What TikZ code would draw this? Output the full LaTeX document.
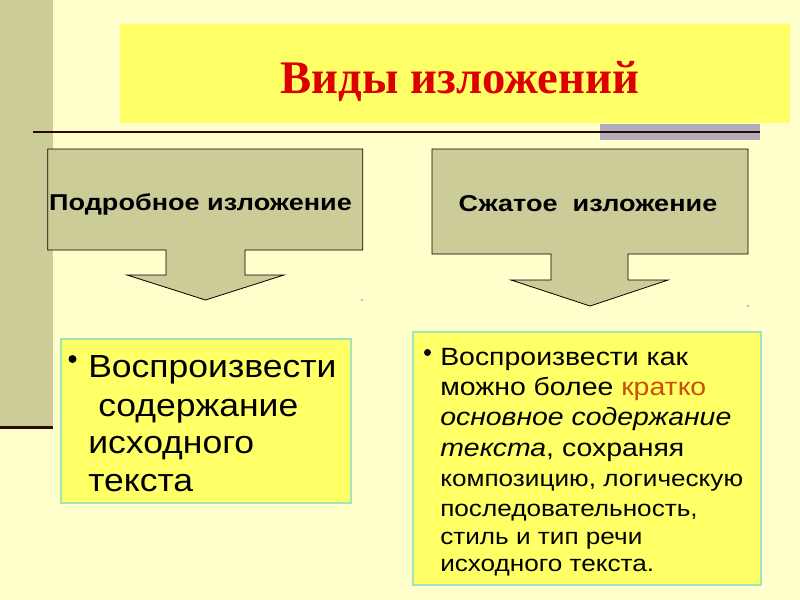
\documentclass[tikz,border=0pt]{standalone}
\usepackage{fontspec}
\setmainfont{Liberation Sans}
\newfontfamily\titlefont{Liberation Serif}
\newfontfamily\headfont[FakeStretch=1.18]{Liberation Sans}
\newfontfamily\leftfont[FakeStretch=1.11]{Liberation Sans}
\newfontfamily\rightfont[FakeStretch=1.14]{Liberation Sans}
\definecolor{bgc}{HTML}{FFFFCC}
\definecolor{khaki}{HTML}{CCCC99}
\definecolor{ylw}{HTML}{FFFF66}
\definecolor{titlered}{HTML}{DD0000}
\definecolor{darkline}{HTML}{2A0A00}
\definecolor{graybar}{HTML}{B0ACBC}
\definecolor{mint}{HTML}{A0E6B4}
\definecolor{orng}{HTML}{C8500A}
\tikzset{
  x=0.75pt, y=-0.75pt,
  arrowbox/.style={fill=khaki, draw=black, line width=0.6pt, line join=miter},
  bodybox/.style={fill=ylw, draw=mint, line width=1.5pt},
  headtxt/.style={font=\headfont\bfseries\fontsize{17.2}{20}\selectfont, inner sep=0pt, anchor=base},
  bigtxt/.style={font=\leftfont\fontsize{24}{28}\selectfont, inner sep=0pt, anchor=base west},
  midtxt/.style={font=\rightfont\fontsize{18.7}{22}\selectfont, inner sep=0pt, anchor=base west},
  smalltxt/.style={font=\rightfont\fontsize{17.2}{20}\selectfont, inner sep=0pt, anchor=base west},
  bulletdot/.style={circle, fill=black, inner sep=0pt},
}
\begin{document}
\begin{tikzpicture}
\fill[bgc] (0,0) rectangle (800,600);
\useasboundingbox (0,0) rectangle (800,600);
% left strip
\fill[khaki] (0,0) rectangle (52.5,425.5);
\fill[darkline] (0,425.5) rectangle (52.5,428.5);
% title box
\fill[ylw] (120,24) rectangle (790,123);
\fill[graybar] (600,124) rectangle (760,140);
\draw[darkline, line width=1.6pt] (33,132) -- (760,132);
\node[font=\titlefont\bfseries\fontsize{35}{40}\selectfont, text=titlered, inner sep=0pt, anchor=base] (title) at (460,93) {Виды изложений};
% arrow boxes
\draw[arrowbox] (47.7,149) -- (362.7,149) -- (362.7,250) -- (245,250) -- (245,275) -- (284,275) -- (205.5,300) -- (127,275) -- (166,275) -- (166,250) -- (47.7,250) -- cycle;
\node[headtxt] (podr) at (200.5,210.7) {Подробное изложение};
\draw[arrowbox] (432,149) -- (748,149) -- (748,254) -- (628,254) -- (628,280) -- (668,280) -- (590,306) -- (511,280) -- (551,280) -- (551,254) -- (432,254) -- cycle;
\node[headtxt] (szh) at (588,211.7) {Сжатое\ \ изложение};
\fill[gray] (362,300) circle (0.8);
\fill[gray] (748,306) circle (0.8);
% left body
\draw[bodybox] (61,339) rectangle (351,503);
\node[bulletdot, minimum size=6pt] (b1) at (72.5,359) {};
\node[bigtxt] (l1) at (88,377) {Воспроизвести};
\node[bigtxt] (l2) at (98,416.7) {содержание};
\node[bigtxt] (l3) at (88,453) {исходного};
\node[bigtxt] (l4) at (88,491.7) {текста};
% right body
\draw[bodybox] (413,332) rectangle (761,585);
\node[bulletdot, minimum size=5.2pt] (b2) at (427.5,352.5) {};
\node[midtxt] (r1) at (440,365) {Воспроизвести как};
\node[midtxt] (r2) at (440,395) {можно более \textcolor{orng}{кратко}};
\node[midtxt] (r3) at (440,425) {\itshape основное содержание};
\node[midtxt] (r4) at (440,456.7) {\textit{текста}, сохраняя};
\node[smalltxt] (r5) at (440,486.7) {композицию, логическую};
\node[smalltxt] (r6) at (440,516.7) {последовательность,};
\node[smalltxt] (r7) at (440,544) {стиль и тип речи};
\node[smalltxt] (r8) at (440,571.7) {исходного текста.};
\end{tikzpicture}
\end{document}
